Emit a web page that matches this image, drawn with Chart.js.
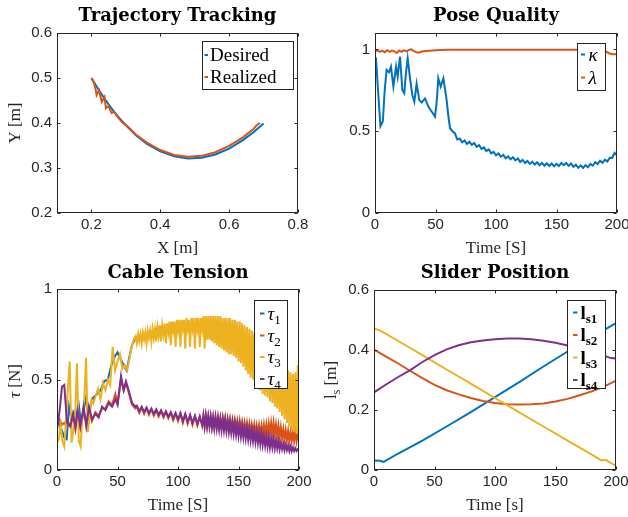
<!DOCTYPE html>
<html>
<head>
<meta charset="utf-8">
<script src="https://cdn.jsdelivr.net/npm/chart.js@4.4.0/dist/chart.umd.min.js"></script>
<style>
  html, body { margin: 0; padding: 0; background: #fff; }
  #page { position: relative; width: 628px; height: 517px; overflow: hidden; background: #fff; }
  #page canvas { position: absolute; left: 0; top: 0; }
</style>
</head>
<body>
<div id="page">
  <canvas id="traj" width="628" height="517"></canvas>
  <canvas id="pose" width="628" height="517"></canvas>
  <canvas id="tension" width="628" height="517"></canvas>
  <canvas id="slider" width="628" height="517"></canvas>
</div>
<script>
// ---- data ----

// Trajectory Tracking (X [m] vs Y [m])
const desiredX = [0.20,0.22,0.24,0.26,0.28,0.30,0.33,0.36,0.40,0.44,0.48,0.52,0.56,0.60,0.64,0.67,0.70];
const desiredY = [0.500,0.475,0.452,0.431,0.412,0.395,0.372,0.354,0.337,0.326,0.321,0.323,0.330,0.343,0.362,0.379,0.399];
const realizedX = [0.200,0.207,0.213,0.215,0.222,0.230,0.238,0.242,0.250,0.255,0.259,0.265,0.272,0.280,0.290,0.30,0.33,0.36,0.40,0.44,0.48,0.52,0.56,0.60,0.64,0.67,0.68,0.69];
const realizedY = [0.500,0.490,0.472,0.462,0.473,0.447,0.458,0.433,0.438,0.428,0.422,0.425,0.418,0.410,0.401,0.396,0.374,0.357,0.340,0.329,0.325,0.327,0.335,0.349,0.368,0.386,0.395,0.400];

// Pose Quality (time [S])
const kappaT = [0,0.8,2.5,4.5,6.5,8,9.6,11.6,13.2,15.2,17.4,18.7,20.7,22.6,24.2,25.5,27,29,30.9,32.5,
  34.4,36.6,38.6,41.3,44.1,46.8,49.6,51,52.3,54.3,56.5,58,59.2,60.5,62,64,
  66,68,70,72,74,76,78,80,82,84,86,88,90,92,94,96,98,100,102,104,106,108,110,112,114,116,118,120,
  122,124,126,128,130,132,134,136,138,140,142,144,146,148,150,152,154,156,158,160,162,164,166,168,
  170,172,174,176,178,180,182,184,186,188,190,192,194,196,198,200];
const kappaV = [0.95,0.945,0.75,0.53,0.56,0.75,0.874,0.86,0.894,0.772,0.894,0.833,0.955,0.752,0.732,0.85,0.945,0.82,0.72,0.68,
  0.79,0.69,0.675,0.70,0.65,0.62,0.589,0.68,0.823,0.772,0.823,0.75,0.69,0.60,0.518,0.50,
  0.488,0.449,0.455,0.432,0.443,0.422,0.435,0.416,0.428,0.405,0.415,0.392,0.401,0.378,0.388,0.365,0.374,0.352,0.364,0.344,
  0.355,0.334,0.346,0.328,0.341,0.322,0.333,0.312,0.324,0.305,0.318,0.300,0.314,0.296,0.310,0.292,0.306,0.289,0.304,0.287,
  0.302,0.285,0.300,0.287,0.306,0.292,0.306,0.288,0.302,0.282,0.295,0.276,0.291,0.275,0.292,0.279,0.300,0.289,0.310,0.299,
  0.320,0.307,0.326,0.314,0.338,0.337,0.368,0.35];
const lambdaT = [0,2,4,6,8,10,12,14,16,18,20,22,24,26,28,30,32,34,36,38,40,45,50,55,60,70,80,100,120,140,160,175,185,190,193,196,200];
const lambdaV = [0.985,0.995,0.985,0.992,0.982,0.995,0.985,0.993,0.988,0.978,0.993,0.985,0.995,0.988,0.997,1.0,0.99,0.982,0.98,0.985,
  0.988,0.992,0.995,0.996,0.997,0.998,0.998,0.998,0.998,0.998,0.998,0.998,0.995,0.99,0.978,0.97,0.97];

// Cable Tension (time [S])
const tau1T = [0,2,4,6,8,10,12,14,16,18,20,22,24,26,28,30,33,36,39,42,45,48,50,52,55,57.5,60,62,65,70,75,80,85,90,
  100,110,120,130,140,150,160,170,180,190,200];
const tau1V = [0.30,0.25,0.22,0.18,0.17,0.35,0.28,0.32,0.30,0.36,0.25,0.33,0.40,0.30,0.36,0.40,0.42,0.44,0.49,0.50,0.58,0.63,
  0.65,0.62,0.58,0.55,0.63,0.69,0.73,0.74,0.75,0.77,0.79,0.79,0.80,0.80,0.80,0.79,0.77,0.73,0.66,0.58,0.50,0.42,0.38];
const tau24T = [0,2.2,4.1,6,8.3,11,13.2,15.2,17,19.3,22,24.2,26.4,28.9,31.7,34.4,37.2,40,42.7,45.5,48.2,50.1,52.9,55.1,57,59.2,62,64.7,
  66,68,70,72,74,76,78,80,82,84,86,88,90,92,94,96,98,100,102,104,106,108,110,112,114,116,118,120,
  121,122,123,124,125,126,127,128,129,130,131,132,133,134,135,136,137,138,139,140,
  141,142,143,144,145,146,147,148,149,150,151,152,153,154,155,156,157,158,159,160,
  161,162,163,164,165,166,167,168,169,170,171,172,173,174,175,176,177,178,179,180,
  181,182,183,184,185,186,187,188,189,190,191,192,193,194,195,196,197,198,199,200];
const tau2V = [0.27,0.28,0.25,0.26,0.24,0.26,0.28,0.22,0.31,0.23,0.33,0.26,0.34,0.27,0.32,0.30,0.34,0.34,0.38,0.36,0.42,0.37,0.50,0.44,0.48,0.43,0.36,0.34,
  0.35,0.315,0.345,0.31,0.34,0.305,0.335,0.30,0.33,0.295,0.325,0.29,0.32,0.285,0.315,0.275,0.31,0.27,0.31,0.26,0.305,0.255,0.30,0.25,0.295,0.245,0.295,0.245,
  0.30,0.245,0.30,0.245,0.295,0.245,0.295,0.24,0.29,0.24,0.29,0.24,0.29,0.235,0.285,0.235,0.285,0.235,0.285,0.23,
  0.28,0.23,0.28,0.23,0.275,0.225,0.275,0.225,0.27,0.22,0.27,0.22,0.265,0.215,0.26,0.21,0.26,0.21,0.255,0.205,
  0.25,0.20,0.25,0.20,0.245,0.195,0.245,0.195,0.245,0.195,0.25,0.195,0.25,0.195,0.255,0.20,0.26,0.20,0.26,0.195,
  0.25,0.19,0.245,0.18,0.235,0.175,0.225,0.17,0.22,0.165,0.215,0.16,0.21,0.16,0.21,0.16,0.21,0.16,0.205,0.16];
const tau4V = [0.22,0.33,0.46,0.47,0.26,0.24,0.31,0.24,0.33,0.24,0.35,0.24,0.35,0.28,0.31,0.29,0.35,0.33,0.37,0.35,0.39,0.36,0.52,0.44,0.49,0.44,0.37,0.35,
  0.355,0.325,0.35,0.32,0.345,0.315,0.34,0.31,0.335,0.305,0.33,0.30,0.325,0.295,0.32,0.285,0.315,0.28,0.315,0.27,0.31,0.265,0.305,0.26,0.30,0.255,0.295,0.25,
  0.30,0.24,0.30,0.24,0.295,0.24,0.295,0.235,0.29,0.23,0.29,0.23,0.285,0.225,0.28,0.22,0.28,0.22,0.275,0.215,
  0.27,0.21,0.265,0.205,0.26,0.20,0.255,0.195,0.25,0.19,0.245,0.185,0.24,0.18,0.235,0.175,0.23,0.17,0.225,0.165,
  0.22,0.16,0.215,0.155,0.21,0.15,0.205,0.145,0.20,0.14,0.19,0.135,0.185,0.13,0.18,0.125,0.175,0.125,0.17,0.12,
  0.165,0.12,0.16,0.115,0.15,0.115,0.145,0.11,0.14,0.11,0.135,0.105,0.13,0.105,0.125,0.105,0.12,0.105,0.115,0.11];
const tau3T = [0,1.5,3,4.5,6,7.5,9,10.5,12,13.5,15,16.5,18,19.5,21,22.5,24,25.5,27,28.5,
  30,32,34,36,38,40,42,44,46,48,50,52,54,56,58,60,62,64,
  65,66,67,68,69,70,71,72,73,74,75,76,77,78,79,80,81,82,83,84,85,86,87,88,89,90,91,92,93,94,
  95,96,97,98,99,100,101,102,103,104,105,106,107,108,109,110,111,112,113,114,115,116,117,118,119,120,121,122,123,124,
  125,126,127,128,129,130,131,132,133,134,135,136,137,138,139,140,141,142,143,144,145,146,147,148,149,150,
  151,152,153,154,155,156,157,158,159,160,161,162,163,164,165,166,167,168,169,170,171,172,173,174,175,
  176,177,178,179,180,181,182,183,184,185,186,187,188,189,190,191,192,193,194,195,196,197,198,199,200];
const tau3V = [0.15,0.17,0.25,0.16,0.13,0.28,0.45,0.60,0.15,0.22,0.30,0.59,0.16,0.13,0.30,0.38,0.62,0.21,0.30,0.39,
  0.37,0.41,0.45,0.39,0.48,0.44,0.50,0.47,0.68,0.55,0.60,0.64,0.56,0.58,0.55,0.62,0.69,0.73,
  0.74,0.70,0.75,0.71,0.75,0.70,0.76,0.72,0.76,0.70,0.77,0.73,0.77,0.71,0.78,0.73,0.78,0.71,0.79,0.74,
  0.80,0.71,0.80,0.75,0.81,0.70,0.81,0.76,0.82,0.69,0.82,0.77,0.82,0.68,0.83,0.77,0.83,0.68,0.83,0.78,
  0.83,0.67,0.84,0.78,0.83,0.68,0.84,0.78,0.84,0.67,0.84,0.78,0.84,0.68,0.84,0.78,0.85,0.67,0.85,0.72,
  0.85,0.72,0.85,0.71,0.85,0.70,0.85,0.69,0.85,0.68,0.85,0.67,0.84,0.66,0.84,0.65,0.84,0.64,0.84,0.64,
  0.83,0.63,0.83,0.62,0.82,0.60,0.82,0.59,0.81,0.57,0.80,0.55,0.79,0.53,0.78,0.51,0.77,0.50,0.76,0.48,
  0.74,0.45,0.73,0.44,0.71,0.42,0.70,0.41,0.68,0.40,0.67,0.38,0.66,0.37,0.64,0.35,0.63,0.34,0.61,0.32,
  0.59,0.30,0.58,0.28,0.56,0.26,0.55,0.24,0.54,0.22,0.53,0.21,0.54,0.20,0.58,0.17];

// Slider Position (time [s])
const ls1T = [0,5,8,20,40,60,80,100,120,140,160,180,200];
const ls1V = [0.032,0.031,0.027,0.055,0.098,0.145,0.193,0.243,0.293,0.345,0.395,0.443,0.49];
const ls2T = [0,10,20,30,40,50,60,70,80,90,100,110,120,130,140,150,160,170,180,190,200];
const ls2V = [0.401,0.378,0.355,0.33,0.306,0.284,0.266,0.252,0.24,0.23,0.223,0.219,0.218,0.219,0.222,0.228,0.237,0.249,0.262,0.278,0.298];
const ls3T = [0,3,6,20,40,60,80,100,120,140,160,180,188,190,192,195,198,200];
const ls3V = [0.471,0.468,0.463,0.43,0.383,0.335,0.288,0.24,0.192,0.145,0.098,0.051,0.032,0.033,0.033,0.025,0.018,0.016];
const ls4T = [0,10,20,30,40,50,60,70,80,90,100,110,120,130,140,150,160,170,180,188,192,196,200];
const ls4V = [0.259,0.285,0.31,0.333,0.36,0.383,0.402,0.416,0.426,0.432,0.436,0.438,0.438,0.436,0.431,0.424,0.415,0.405,0.395,0.388,0.378,0.373,0.372];

// ticks
const trajXTicks = [0.2,0.4,0.6,0.8];
const trajXLabels = ['0.2','0.4','0.6','0.8'];
const trajYTicks = [0.2,0.3,0.4,0.5,0.6];
const trajYLabels = ['0.2','0.3','0.4','0.5','0.6'];
const timeTicks = [0,50,100,150,200];
const timeLabels = ['0','50','100','150','200'];
const unitYTicks = [0,0.5,1];
const unitYLabels = ['0','0.5','1'];
const sliderYTicks = [0,0.2,0.4,0.6];
const sliderYLabels = ['0','0.2','0.4','0.6'];

// MATLAB default colours
const BLUE = '#0072BD', ORANGE = '#D95319', YELLOW = '#EDB120', PURPLE = '#7E2F8E';

Chart.defaults.font.family = '"Liberation Sans", Arial, sans-serif';
Chart.defaults.font.size = 15;
Chart.defaults.color = '#262626';

const PAGE_W = 628, PAGE_H = 517, YW = 40, XH = 40;
const SERIF = '"Liberation Serif", serif';

function drawPieces(ctx, pieces, x, y, align) {
  let w = 0;
  pieces.forEach(p => { ctx.font = p.f; w += ctx.measureText(p.s).width; });
  let cx = align === 'center' ? x - w / 2 : x;
  ctx.textAlign = 'left';
  ctx.textBaseline = 'alphabetic';
  pieces.forEach(p => {
    ctx.font = p.f;
    ctx.fillText(p.s, cx, y + (p.dy || 0));
    cx += ctx.measureText(p.s).width;
  });
}

function drawFrame(chart, cfg) {
  const { ctx, chartArea: a, scales: { x, y } } = chart;
  ctx.save();
  ctx.strokeStyle = '#262626';
  ctx.lineWidth = 1;
  const L = Math.round(a.left) + 0.5, R = Math.round(a.right) - 0.5;
  const T = Math.round(a.top) + 0.5, B = Math.round(a.bottom) - 0.5;
  ctx.strokeRect(L, T, R - L, B - T);
  // inward ticks on all four sides, like MATLAB with box on
  ctx.beginPath();
  cfg.x.ticks.forEach(v => {
    const p = Math.round(x.getPixelForValue(v)) + 0.5;
    ctx.moveTo(p, B); ctx.lineTo(p, B - 3);
    ctx.moveTo(p, T); ctx.lineTo(p, T + 3);
  });
  cfg.y.ticks.forEach(v => {
    const p = Math.round(y.getPixelForValue(v)) + 0.5;
    ctx.moveTo(L, p); ctx.lineTo(L + 3, p);
    ctx.moveTo(R, p); ctx.lineTo(R - 3, p);
  });
  ctx.stroke();

  // title
  ctx.fillStyle = '#000';
  drawPieces(ctx, [{ s: cfg.title, f: 'bold 18px "DejaVu Serif"' }], cfg.titleX, cfg.titleY, 'center');

  // axis labels
  ctx.fillStyle = '#262626';
  drawPieces(ctx, cfg.xTitle, cfg.xTitleX, cfg.xTitleY, 'center');
  if (cfg.yTitle) {
    ctx.save();
    ctx.translate(cfg.yTitleX, cfg.yTitleY);
    ctx.rotate(-Math.PI / 2);
    drawPieces(ctx, cfg.yTitle, 0, 5, 'center');
    ctx.restore();
  }

  // legend
  const lg = cfg.legend;
  ctx.fillStyle = '#fff';
  ctx.fillRect(lg.x0, lg.y0, lg.x1 - lg.x0, lg.y1 - lg.y0);
  ctx.strokeStyle = '#262626';
  ctx.lineWidth = 1;
  ctx.strokeRect(lg.x0 + 0.5, lg.y0 + 0.5, lg.x1 - lg.x0 - 1, lg.y1 - lg.y0 - 1);
  lg.rows.forEach((r, i) => {
    ctx.strokeStyle = cfg.series[i].color;
    ctx.lineWidth = 2;
    ctx.beginPath();
    ctx.moveTo(lg.m0, r.y); ctx.lineTo(lg.m1, r.y);
    ctx.stroke();
    ctx.fillStyle = '#000';
    drawPieces(ctx, r.pieces, lg.tx, r.y + 6, 'left');
  });
  ctx.restore();
}

function makeChart(id, cfg) {
  const a = cfg.area;
  const n = cfg.series.length;
  return new Chart(document.getElementById(id), {
    type: 'line',
    data: {
      datasets: cfg.series.map((s, i) => ({
        data: s.t.map((t, k) => ({ x: t, y: s.v[k] })),
        borderColor: s.color,
        borderWidth: 2,
        pointRadius: 0,
        tension: 0,
        fill: false,
        order: n - i
      }))
    },
    options: {
      responsive: false,
      animation: false,
      events: [],
      layout: { padding: { left: a.l - YW, top: a.t, right: PAGE_W - a.r, bottom: PAGE_H - a.b - XH } },
      plugins: { legend: { display: false }, tooltip: { enabled: false } },
      scales: {
        x: {
          type: 'linear', min: cfg.x.min, max: cfg.x.max,
          grid: { display: false, drawTicks: false }, border: { display: false },
          afterBuildTicks: s => { s.ticks = cfg.x.ticks.map(v => ({ value: v })); },
          afterFit: s => { s.height = XH; s.paddingLeft = 0; s.paddingRight = 0; },
          ticks: { padding: 3, maxRotation: 0, autoSkip: false, callback: (v, i) => cfg.x.labels[i] }
        },
        y: {
          type: 'linear', min: cfg.y.min, max: cfg.y.max,
          grid: { display: false, drawTicks: false }, border: { display: false },
          afterBuildTicks: s => { s.ticks = cfg.y.ticks.map(v => ({ value: v })); },
          afterFit: s => { s.width = YW; s.paddingTop = 0; s.paddingBottom = 0; },
          ticks: { padding: 5, autoSkip: false, callback: (v, i) => cfg.y.labels[i] }
        }
      }
    },
    plugins: [{ id: 'frame', afterDatasetsDraw: chart => drawFrame(chart, cfg) }]
  });
}

const AX = '17px ' + SERIF;
const LEG = '19px ' + SERIF;
const timeS = [{ s: 'Time [S]', f: AX }];

makeChart('traj', {
  area: { l: 57, r: 298, t: 33, b: 213 },
  x: { min: 0.1, max: 0.8, ticks: trajXTicks, labels: trajXLabels },
  y: { min: 0.2, max: 0.6, ticks: trajYTicks, labels: trajYLabels },
  series: [
    { t: desiredX, v: desiredY, color: BLUE },
    { t: realizedX, v: realizedY, color: ORANGE }
  ],
  title: 'Trajectory Tracking', titleX: 177.5, titleY: 21,
  xTitle: [{ s: 'X [m]', f: AX }], xTitleX: 177.5, xTitleY: 253,
  yTitle: [{ s: 'Y [m]', f: AX }], yTitleX: 15, yTitleY: 123,
  legend: { x0: 202, y0: 41, x1: 294, y1: 90, m0: 204.5, m1: 208, tx: 210,
    rows: [ { y: 55, pieces: [{ s: 'Desired', f: LEG }] },
            { y: 77, pieces: [{ s: 'Realized', f: LEG }] } ] }
});

makeChart('pose', {
  area: { l: 375, r: 617, t: 33, b: 213 },
  x: { min: 0, max: 200, ticks: timeTicks, labels: timeLabels },
  y: { min: 0, max: 1.1, ticks: unitYTicks, labels: unitYLabels },
  series: [
    { t: kappaT, v: kappaV, color: BLUE },
    { t: lambdaT, v: lambdaV, color: ORANGE }
  ],
  title: 'Pose Quality', titleX: 496, titleY: 21,
  xTitle: timeS, xTitleX: 496, xTitleY: 253,
  yTitle: null,
  legend: { x0: 577, y0: 43, x1: 606, y1: 91, m0: 581, m1: 585, tx: 588.5,
    rows: [ { y: 54.5, pieces: [{ s: 'κ', f: 'italic ' + LEG }] },
            { y: 77.5, pieces: [{ s: 'λ', f: 'italic ' + LEG }] } ] }
});

const tauRow = (y, d) => ({ y, pieces: [{ s: 'τ', f: 'italic ' + LEG }, { s: d, f: '13px ' + SERIF, dy: 4 }] });
makeChart('tension', {
  area: { l: 57, r: 299, t: 289, b: 470 },
  x: { min: 0, max: 200, ticks: timeTicks, labels: timeLabels },
  y: { min: 0, max: 1, ticks: unitYTicks, labels: unitYLabels },
  series: [
    { t: tau1T, v: tau1V, color: BLUE },
    { t: tau24T, v: tau2V, color: ORANGE },
    { t: tau3T, v: tau3V, color: YELLOW },
    { t: tau24T, v: tau4V, color: PURPLE }
  ],
  title: 'Cable Tension', titleX: 178, titleY: 278,
  xTitle: timeS, xTitleX: 178, xTitleY: 509.5,
  yTitle: [{ s: 'τ', f: 'italic ' + AX }, { s: ' [N]', f: AX }], yTitleX: 15, yTitleY: 381,
  legend: { x0: 254, y0: 300, x1: 288, y1: 389, m0: 260, m1: 264.5, tx: 267.5,
    rows: [ tauRow(313.5, '1'), tauRow(335.5, '2'), tauRow(357, '3'), tauRow(379, '4') ] }
});

const lsRow = (y, d) => ({ y, pieces: [{ s: 'l', f: 'bold ' + LEG }, { s: 's' + d, f: 'bold 13px ' + SERIF, dy: 4 }] });
makeChart('slider', {
  area: { l: 374, r: 616, t: 290, b: 470 },
  x: { min: 0, max: 200, ticks: timeTicks, labels: timeLabels },
  y: { min: 0, max: 0.6, ticks: sliderYTicks, labels: sliderYLabels },
  series: [
    { t: ls1T, v: ls1V, color: BLUE },
    { t: ls2T, v: ls2V, color: ORANGE },
    { t: ls3T, v: ls3V, color: YELLOW },
    { t: ls4T, v: ls4V, color: PURPLE }
  ],
  title: 'Slider Position', titleX: 495, titleY: 278,
  xTitle: [{ s: 'Time [s]', f: AX }], xTitleX: 495, xTitleY: 509.5,
  yTitle: [{ s: 'l', f: AX }, { s: 's', f: '12px ' + SERIF, dy: 4 }, { s: ' [m]', f: AX }], yTitleX: 331, yTitleY: 380,
  legend: { x0: 567, y0: 300, x1: 606, y1: 389, m0: 573, m1: 577.5, tx: 580.5,
    rows: [ lsRow(312.5, '1'), lsRow(335, '2'), lsRow(357.5, '3'), lsRow(380, '4') ] }
});
</script>
</body>
</html>
